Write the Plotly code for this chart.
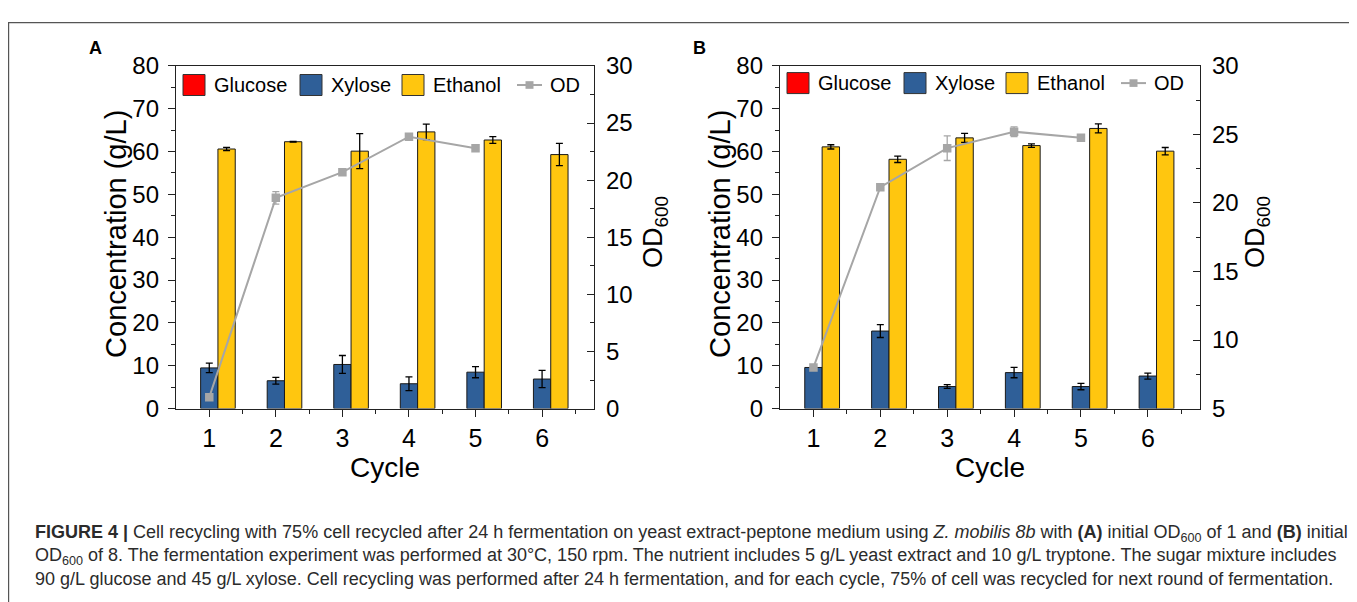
import plotly.graph_objects as go

# The page body has an 8 px default margin, so the figure is made 8 px smaller
# and every reference pixel position is shifted by that margin.
OFF = 8
W, H = 1357 - OFF, 602 - OFF

# ---------------- data ----------------
cycles = [1, 2, 3, 4, 5, 6]

glucose_A = [0, 0, 0, 0, 0, 0]
xylose_A = [9.5, 6.5, 10.3, 5.8, 8.5, 6.9]
xylose_A_err = [1.1, 0.8, 2.1, 1.6, 1.3, 2.0]
ethanol_A = [60.6, 62.3, 60.1, 64.6, 62.7, 59.3]
ethanol_A_err = [0.4, 0.1, 4.1, 1.8, 0.8, 2.6]
od_cycles_A = [1, 2, 3, 4, 5]
od_A = [1.0, 18.45, 20.7, 23.8, 22.8]
od_A_err = [0, 0.55, 0, 0, 0]

glucose_B = [0, 0, 0, 0, 0, 0]
xylose_B = [9.6, 18.1, 5.15, 8.4, 5.15, 7.6]
xylose_B_err = [0.2, 1.5, 0.45, 1.2, 0.75, 0.7]
ethanol_B = [61.1, 58.2, 63.2, 61.4, 65.4, 60.1]
ethanol_B_err = [0.5, 0.75, 1.05, 0.4, 1.05, 0.85]
od_cycles_B = [1, 2, 3, 4, 5]
od_B = [8.0, 21.15, 24.0, 25.2, 24.75]
od_B_err = [0, 0, 0.9, 0.35, 0]

left_ticks = [0, 10, 20, 30, 40, 50, 60, 70, 80]
right_ticks_A = [0, 5, 10, 15, 20, 25, 30]
right_ticks_B = [5, 10, 15, 20, 25, 30]

# ---------------- style ----------------
FONT = "Arial, Liberation Sans, sans-serif"
C_GLU = "#FF0000"
C_XYL = "#2F5F98"
C_ETH = "#FFC60F"
C_OD = "#A6A6A6"
C_EDGE = "#1a1a1a"
AX = "#222222"


def px(x):
    return (x - OFF) / W


def py(y):
    return 1 - (y - OFF) / H


fig = go.Figure()

panels = [
    dict(x="x", y="y", y2="y2", glu=glucose_A, xyl=xylose_A, xe=xylose_A_err,
         eth=ethanol_A, ee=ethanol_A_err, odx=od_cycles_A, od=od_A, ode=od_A_err),
    dict(x="x2", y="y3", y2="y4", glu=glucose_B, xyl=xylose_B, xe=xylose_B_err,
         eth=ethanol_B, ee=ethanol_B_err, odx=od_cycles_B, od=od_B, ode=od_B_err),
]

for i, p in enumerate(panels):
    fig.add_trace(go.Bar(x=cycles, y=p["glu"], xaxis=p["x"], yaxis=p["y"],
                         marker=dict(color=C_GLU, line=dict(width=0)),
                         offsetgroup=f"g{i}", showlegend=False))
    fig.add_trace(go.Bar(x=cycles, y=p["xyl"], xaxis=p["x"], yaxis=p["y"],
                         marker=dict(color=C_XYL, line=dict(color=C_EDGE, width=1)),
                         error_y=dict(type="data", array=p["xe"], color="black",
                                      thickness=1.3, width=3.5),
                         offsetgroup=f"x{i}", showlegend=False))
    fig.add_trace(go.Bar(x=cycles, y=p["eth"], xaxis=p["x"], yaxis=p["y"],
                         marker=dict(color=C_ETH, line=dict(color=C_EDGE, width=1)),
                         error_y=dict(type="data", array=p["ee"], color="black",
                                      thickness=1.3, width=3.5),
                         offsetgroup=f"e{i}", showlegend=False))
    fig.add_trace(go.Scatter(x=p["odx"], y=p["od"], xaxis=p["x"], yaxis=p["y2"],
                             mode="lines+markers",
                             line=dict(color=C_OD, width=2),
                             marker=dict(symbol="square", size=8.5, color=C_OD),
                             error_y=dict(type="data", array=p["ode"], color=C_OD,
                                          thickness=1.3, width=3.5),
                             showlegend=False))

dom_A = [px(176), px(594)]
dom_B = [px(780), px(1200)]
dom_y = [py(413), py(54)]

xcommon = dict(range=[0.5, 6.78], tickvals=cycles, ticktext=[str(c) for c in cycles],
               ticks="outside", ticklen=7, tickwidth=1.3, tickcolor=AX,
               minor=dict(tickvals=[1.5, 2.5, 3.5, 4.5, 5.5, 6.5], ticks="outside",
                          ticklen=4, tickwidth=1.1, tickcolor=AX),
               showline=True, linecolor=AX, linewidth=1.4, mirror=True,
               showgrid=False, zeroline=False, ticklabelstandoff=0,
               tickfont=dict(family=FONT, size=25, color="black"), fixedrange=True)

ycommon = dict(range=[0, 80], tickvals=left_ticks, ticks="outside", ticklen=7,
               tickwidth=1.3, tickcolor=AX,
               minor=dict(dtick=5, ticks="outside", ticklen=4, tickwidth=1.1, tickcolor=AX),
               showline=True, linecolor=AX, linewidth=1.4, showgrid=False,
               zeroline=False, ticklabelstandoff=4,
               tickfont=dict(family=FONT, size=24, color="black"))

rcommon = dict(side="right", ticks="inside", ticklen=7, tickwidth=1.3, tickcolor=AX,
               minor=dict(dtick=2.5, ticks="inside", ticklen=4, tickwidth=1.1, tickcolor=AX),
               showline=True, linecolor=AX, linewidth=1.4, showgrid=False,
               zeroline=False, ticklabelstandoff=6,
               tickfont=dict(family=FONT, size=24, color="black"))

fig.update_layout(
    width=W, height=H,
    margin=dict(l=0, r=0, t=0, b=0),
    paper_bgcolor="white", plot_bgcolor="white",
    barmode="group", bargap=0.22, bargroupgap=0,
    showlegend=False,
    font=dict(family=FONT, color="black"),
    xaxis=dict(domain=dom_A, anchor="y", **xcommon),
    yaxis=dict(domain=dom_y, anchor="x", **ycommon),
    yaxis2=dict(overlaying="y", anchor="x", range=[0, 30], tickvals=right_ticks_A, **rcommon),
    xaxis2=dict(domain=dom_B, anchor="y3", **xcommon),
    yaxis3=dict(domain=dom_y, anchor="x2", **ycommon),
    yaxis4=dict(overlaying="y3", anchor="x2", range=[5, 30], tickvals=right_ticks_B, **rcommon),
)

shapes = []
ann = []

# outer frame
shapes.append(dict(type="rect", xref="paper", yref="paper",
                   x0=px(8.6), x1=px(1355), y0=py(640), y1=py(8.6),
                   line=dict(color="#555555", width=1.2), fillcolor="rgba(0,0,0,0)"))

# legends, axis titles, panel labels
for left, cx, ly, lab, odtx in [(176, 385, 74, "A", 655), (780, 990, 72, "B", 1257)]:
    for off, col, name in [(7, C_GLU, "Glucose"), (124, C_XYL, "Xylose"), (226, C_ETH, "Ethanol")]:
        shapes.append(dict(type="rect", xref="paper", yref="paper",
                           x0=px(left + off), x1=px(left + off + 22),
                           y0=py(ly + 11), y1=py(ly - 11),
                           fillcolor=col, line=dict(color="#333333", width=1)))
        ann.append(dict(x=px(left + off + 29), y=py(ly), text=name, xanchor="left",
                        yanchor="middle", font=dict(size=20, family=FONT, color="black")))
    shapes.append(dict(type="line", xref="paper", yref="paper",
                       x0=px(left + 341), x1=px(left + 366), y0=py(ly), y1=py(ly),
                       line=dict(color=C_OD, width=2)))
    shapes.append(dict(type="rect", xref="paper", yref="paper",
                       x0=px(left + 349.5), x1=px(left + 357.5), y0=py(ly + 4), y1=py(ly - 4),
                       fillcolor=C_OD, line=dict(width=0)))
    ann.append(dict(x=px(left + 372), y=py(ly), text="OD", xanchor="left", yanchor="middle",
                    font=dict(size=20, family=FONT, color="black")))
    # titles
    ann.append(dict(x=px(left - 60), y=py(230), text="Concentration (g/L)", textangle=-90,
                    xanchor="center", yanchor="middle",
                    font=dict(size=29, family=FONT, color="black")))
    ann.append(dict(x=px(odtx), y=py(228), text="OD<sub>600</sub>", textangle=-90,
                    xanchor="center", yanchor="middle",
                    font=dict(size=27, family=FONT, color="black")))
    ann.append(dict(x=px(cx), y=py(475), text="Cycle", xanchor="center", yanchor="middle",
                    font=dict(size=28, family=FONT, color="black")))
    ann.append(dict(x=px(left - 81), y=py(35), text=f"<b>{lab}</b>", xanchor="center",
                    yanchor="middle", font=dict(size=18, family=FONT, color="black")))

cap_font = dict(size=18, family="Liberation Sans, Arial, sans-serif", color="#2b2b2b")
caption = [
    "<b>FIGURE 4 |</b> Cell recycling with 75% cell recycled after 24 h fermentation on yeast "
    "extract-peptone medium using <i>Z. mobilis 8b</i> with <b>(A)</b> initial OD<sub>600</sub> "
    "of 1 and <b>(B)</b> initial",
    "OD<sub>600</sub> of 8. The fermentation experiment was performed at 30°C, 150 rpm. The "
    "nutrient includes 5 g/L yeast extract and 10 g/L tryptone. The sugar mixture includes",
    "90 g/L glucose and 45 g/L xylose. Cell recycling was performed after 24 h fermentation, "
    "and for each cycle, 75% of cell was recycled for next round of fermentation.",
]
ann.append(dict(x=px(33), y=py(567), text="<br>".join(caption), xanchor="left",
                yanchor="middle", align="left", font=cap_font))

for a in ann:
    a.update(xref="paper", yref="paper", showarrow=False)

fig.update_layout(shapes=shapes, annotations=ann)

fig.write_html("out.html")
